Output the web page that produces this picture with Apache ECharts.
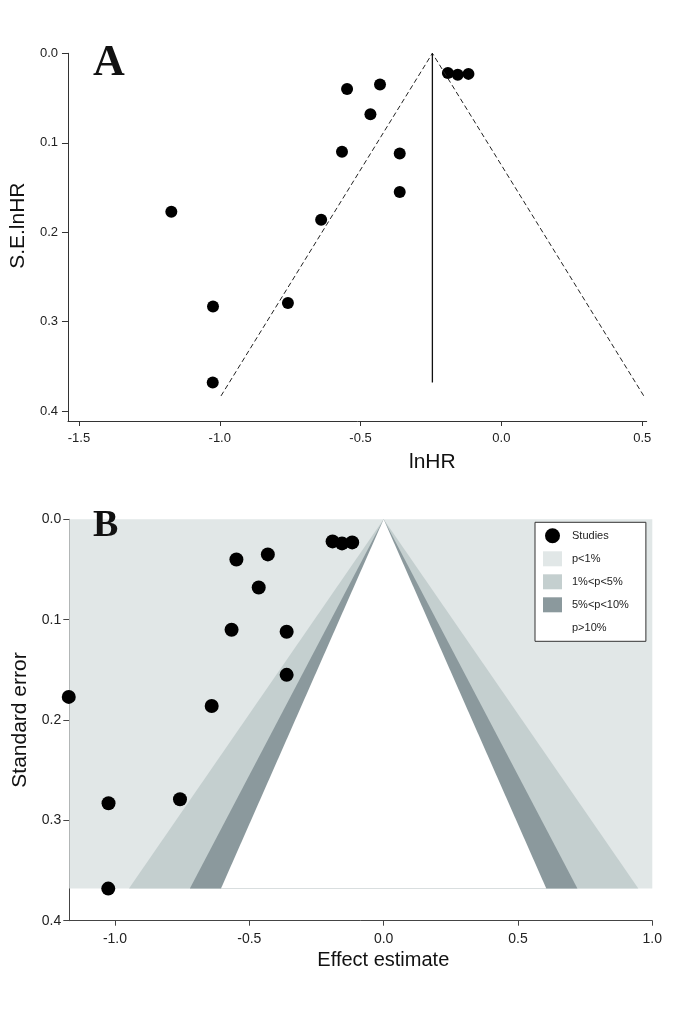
<!DOCTYPE html>
<html>
<head>
<meta charset="utf-8">
<script src="https://cdn.jsdelivr.net/npm/echarts@6/dist/echarts.min.js"></script>
<style>
html,body{margin:0;padding:0;background:#fff;}
#chart{width:685px;height:1011px;}
</style>
</head>
<body>
<div id="chart"></div>
<script>
// ---- data ----
const studyEffect = [-0.190, -0.155, -0.117, -0.431, -0.548, -0.465, -0.566, -0.361, -0.361, -1.172, -0.640, -0.758, -1.024, -1.025];
const studySE     = [0.022, 0.024, 0.023, 0.035, 0.040, 0.068, 0.110, 0.112, 0.155, 0.177, 0.186, 0.279, 0.283, 0.368];
const pooledLnHR = -0.245;      // panel A reference line
const funnelSEEnd = 0.383;      // panel A dashed funnel extent
const zFunnel = 1.96;
const contourZ = [2.576, 1.96, 1.645];   // 99%, 95%, 90%
const contourNames = ['p<1%', '1%<p<5%', '5%<p<10%', 'p>10%'];
const xTicksA = [-1.5, -1.0, -0.5, 0.0, 0.5];
const yTicksA = [0.0, 0.1, 0.2, 0.3, 0.4];
const xTicksB = [-1.0, -0.5, 0.0, 0.5, 1.0];
const yTicksB = [0.0, 0.1, 0.2, 0.3, 0.4];
const xRangeA = [-1.539, 0.516];
const yRangeA = [0, 0.411];
const xRangeB = [-1.17, 1.0];
const yRangeB = [0, 0.4];

// ---- derived ----
const points = studyEffect.map((x, i) => [x, studySE[i]]);
const seMax = Math.max(...studySE);
const SANS = '"Liberation Sans", Arial, sans-serif';
const SERIF = '"Liberation Serif", "DejaVu Serif", serif';
const fmt = v => v.toFixed(1);

function axisCommon(ticks, fontSize, tickLen, margin, color) {
  return {
    axisLine: {show: true, onZero: false, lineStyle: {color: color, width: 1}},
    axisTick: {show: true, length: tickLen, lineStyle: {color: color}, customValues: ticks},
    axisLabel: {fontFamily: SANS, fontSize: fontSize, color: '#222', margin: margin, formatter: fmt, customValues: ticks},
    splitLine: {show: false}
  };
}

const funnelA = [
  [pooledLnHR - zFunnel * funnelSEEnd, funnelSEEnd],
  [pooledLnHR, 0],
  [pooledLnHR + zFunnel * funnelSEEnd, funnelSEEnd]
];
const refLineA = [[pooledLnHR, 0], [pooledLnHR, seMax]];

const contourColors = ['#e1e7e7', '#c4cfcf', '#8b999d', '#ffffff'];
function polySeries(name, pts, color) {
  return {
    type: 'custom', name: name, xAxisIndex: 1, yAxisIndex: 1, silent: true, z: 1,
    itemStyle: {color: color},
    data: [[0, 0]],
    renderItem: function (params, api) {
      return {type: 'polygon', shape: {points: pts.map(p => api.coord(p))}, style: {fill: color}};
    }
  };
}
const bgRect = [[xRangeB[0], 0], [xRangeB[1], 0], [xRangeB[1], seMax], [xRangeB[0], seMax]];
const tri = z => [[0, 0], [-z * seMax, seMax], [z * seMax, seMax]];

const chart = echarts.init(document.getElementById('chart'), null, {renderer: 'canvas'});
chart.setOption({
  animation: false,
  backgroundColor: '#fff',
  grid: [
    {left: 65.7, top: 53.3, width: 581, height: 367.7},
    {left: 69.3, top: 519.3, width: 583, height: 401.4}
  ],
  xAxis: [
    Object.assign({
      type: 'value', gridIndex: 0, min: xRangeA[0], max: xRangeA[1],
      name: 'lnHR', nameLocation: 'middle', nameGap: 31,
      nameTextStyle: {fontFamily: SANS, fontSize: 21, color: '#111', padding: [0, 0, 0, 150]}
    }, axisCommon(xTicksA, 13, 5, 11, '#333')),
    Object.assign({
      type: 'value', gridIndex: 1, min: xRangeB[0], max: xRangeB[1],
      name: 'Effect estimate', nameLocation: 'middle', nameGap: 30,
      nameTextStyle: {fontFamily: SANS, fontSize: 20, color: '#111', padding: [0, 0, 0, 45]}
    }, axisCommon(xTicksB, 14, 5, 11, '#444'))
  ],
  yAxis: [
    Object.assign({
      type: 'value', gridIndex: 0, inverse: true, min: yRangeA[0], max: yRangeA[1],
      name: 'S.E.lnHR', nameLocation: 'middle', nameGap: 38,
      nameTextStyle: {fontFamily: SANS, fontSize: 21, color: '#111', padding: [0, 0, 0, 23]}
    }, axisCommon(yTicksA, 13, 6, 10, '#333')),
    Object.assign({
      type: 'value', gridIndex: 1, inverse: true, min: yRangeB[0], max: yRangeB[1],
      name: 'Standard error', nameLocation: 'middle', nameGap: 31,
      nameTextStyle: {fontFamily: SANS, fontSize: 21, color: '#111'}
    }, axisCommon(yTicksB, 14, 6, 8, '#444'))
  ],
  legend: {
    left: 535, top: 522.3, orient: 'vertical',
    itemWidth: 19, itemHeight: 15, itemGap: 8,
    padding: [6, 17, 6, 8],
    borderColor: '#333', borderWidth: 1, backgroundColor: '#fff',
    selectedMode: false,
    textStyle: {fontFamily: SANS, fontSize: 11, color: '#222', padding: [0, 0, 0, 5]},
    data: [
      {name: 'Studies', icon: 'circle'},
      {name: contourNames[0], icon: 'rect'},
      {name: contourNames[1], icon: 'rect'},
      {name: contourNames[2], icon: 'rect'},
      {name: contourNames[3], icon: 'rect'}
    ]
  },
  graphic: [
    {type: 'text', left: 93, top: 42, z: 100, style: {text: 'A', font: 'bold 44px ' + SERIF, fill: '#111'}},
    {type: 'text', left: 93, top: 507, z: 100, style: {text: 'B', font: 'bold 38px ' + SERIF, fill: '#111'}}
  ],
  series: [
    {type: 'line', xAxisIndex: 0, yAxisIndex: 0, data: funnelA, symbol: 'none', silent: true,
     lineStyle: {color: '#222', width: 1, type: [5, 3]}},
    {type: 'line', xAxisIndex: 0, yAxisIndex: 0, data: refLineA, symbol: 'none', silent: true,
     lineStyle: {color: '#111', width: 1.3}},
    {type: 'scatter', xAxisIndex: 0, yAxisIndex: 0, data: points, symbolSize: 12, clip: false,
     itemStyle: {color: '#000', opacity: 1}},
    polySeries(contourNames[0], bgRect, contourColors[0]),
    polySeries(contourNames[1], tri(contourZ[0]), contourColors[1]),
    polySeries(contourNames[2], tri(contourZ[1]), contourColors[2]),
    polySeries(contourNames[3], tri(contourZ[2]), contourColors[3]),
    {type: 'scatter', name: 'Studies', xAxisIndex: 1, yAxisIndex: 1, data: points, symbolSize: 14, clip: false,
     itemStyle: {color: '#000', opacity: 1}, z: 5}
  ]
});
</script>
</body>
</html>
